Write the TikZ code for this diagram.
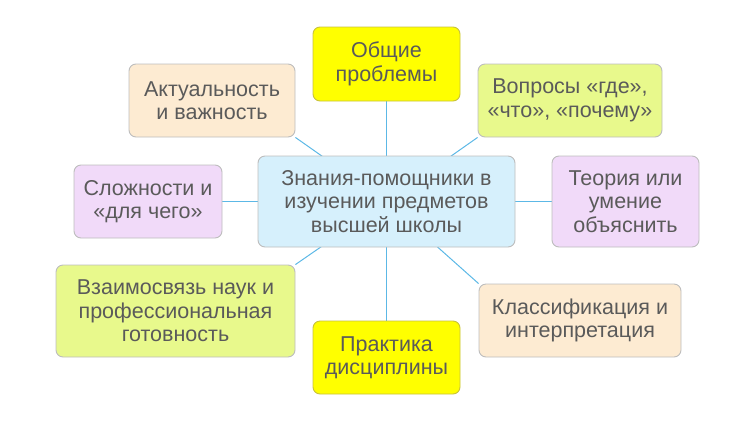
\documentclass[tikz,border=0pt]{standalone}
\usepackage{fontspec}
\setmainfont{Liberation Sans}
\usetikzlibrary{backgrounds}
\definecolor{txt}{HTML}{5A5A5A}
\definecolor{linkc}{HTML}{5CB8E6}
\definecolor{cblue}{HTML}{D6F0FC}
\definecolor{cyel}{HTML}{FFFF00}
\definecolor{cbeige}{HTML}{FDEBD2}
\definecolor{clime}{HTML}{E8F98C}
\definecolor{clav}{HTML}{F1DAF9}
\definecolor{bgray}{HTML}{BDBDBD}
\definecolor{byel}{HTML}{C8C23C}
\tikzset{
  box/.style={draw=bgray, line width=0.9pt, rounded corners=7pt, align=center,
    text=txt, inner sep=0pt,
    font=\fontsize{21.5}{23.5}\selectfont},
  ybox/.style={box, draw=byel, fill=cyel},
  link/.style={draw=linkc, line width=1pt}
}
\begin{document}
\begin{tikzpicture}[x=1pt,y=-1pt]
\useasboundingbox (0,0) rectangle (755,421);
\node[box, fill=cblue, minimum width=257pt, minimum height=91pt] (c) at (386.5,201.5) {Знания-помощники в\\изучении предметов\\высшей школы};
\node[ybox, minimum width=147pt, minimum height=74pt] (obs) at (386.5,64) {Общие\\проблемы};
\node[box, fill=cbeige, minimum width=166pt, minimum height=73pt] (akt) at (212,100.5) {Актуальность\\и важность};
\node[box, fill=clime, minimum width=184pt, minimum height=73pt] (vop) at (570,100.5) {Вопросы «где»,\\«что», «почему»};
\node[box, fill=clav, minimum width=148pt, minimum height=73pt] (slo) at (148,201.5) {Сложности и\\«для чего»};
\node[box, fill=clav, minimum width=147pt, minimum height=91pt] (teo) at (625.5,201.5) {Теория или\\умение\\объяснить};
\node[box, fill=clime, minimum width=239pt, minimum height=92pt] (vza) at (175.5,311) {Взаимосвязь наук и\\профессиональная\\готовность};
\node[ybox, minimum width=147pt, minimum height=73pt] (pra) at (386.5,357.5) {Практика\\дисциплины};
\node[box, fill=cbeige, minimum width=202pt, minimum height=73pt] (kla) at (580,320.5) {Классификация и\\интерпретация};
\begin{pgfonlayer}{background}
\draw[link] (c.center) -- (obs.center);
\draw[link] (c.center) -- (akt.south east);
\draw[link] (c.center) -- (vop.south west);
\draw[link] (c.center) -- (slo.center);
\draw[link] (c.center) -- (teo.center);
\draw[link] (c.center) -- (vza.north east);
\draw[link] (c.center) -- (pra.center);
\draw[link] (c.center) -- (kla.north west);
\end{pgfonlayer}
\end{tikzpicture}
\end{document}
